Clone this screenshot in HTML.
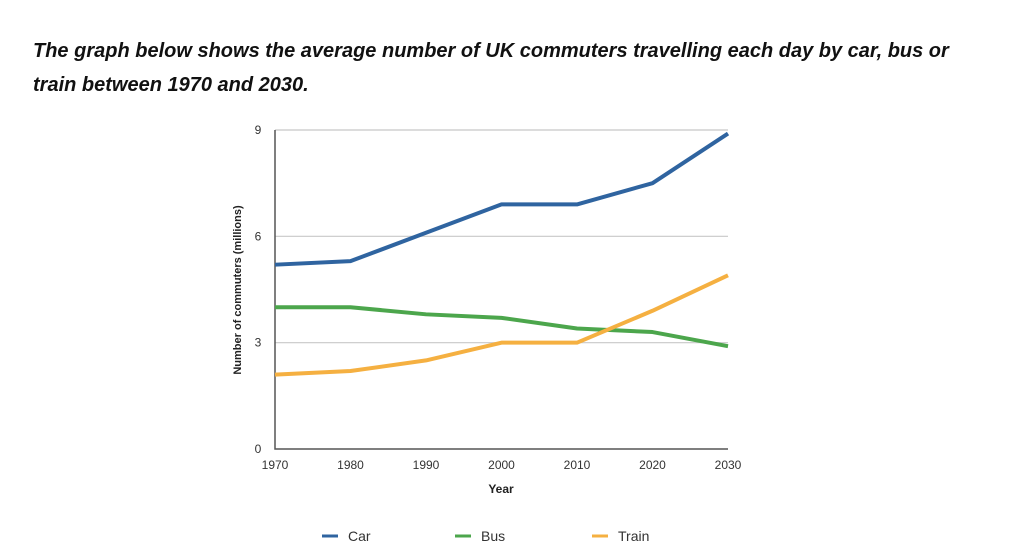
<!DOCTYPE html>
<html><head><meta charset="utf-8">
<style>
html,body{margin:0;padding:0;background:#fff;width:1010px;height:560px;overflow:hidden}
.title{position:absolute;left:33px;top:34px;font:italic bold 20px "Liberation Sans",sans-serif;line-height:34px;color:#111;width:935px}
svg{position:absolute;left:0;top:0}
</style></head><body>
<div class="title">The graph below shows the average number of UK commuters travelling each day by car, bus or train between 1970 and 2030.</div>
<svg id="chart" width="1010" height="560"></svg>
<script>
const years=[1970,1980,1990,2000,2010,2020,2030];
const car=[5.2,5.3,6.1,6.9,6.9,7.5,8.9];
const bus=[4.0,4.0,3.8,3.7,3.4,3.3,2.9];
const train=[2.1,2.2,2.5,3.0,3.0,3.9,4.9];
const yTicks=[0,3,6,9];
const seriesNames=["Car","Bus","Train"];
const svg=document.getElementById('chart');
const NS='http://www.w3.org/2000/svg';
const X0=275,X1=728,Y0=449,Y1=130;
const xs=v=>X0+(v-1970)/60*(X1-X0);
const ys=v=>Y0-v/9*(Y0-Y1);
function mk(t,a,txt){const e=document.createElementNS(NS,t);for(const k in a)e.setAttribute(k,a[k]);if(txt!==undefined)e.textContent=txt;svg.appendChild(e);return e;}
yTicks.forEach(t=>{
 if(t>0){const g=mk('line',{x1:X0,x2:X1,y1:ys(t),y2:ys(t),stroke:'#c8c8c8','stroke-width':1.2});
 
 }
 const l=mk('text',{x:X0-17,y:ys(t)+4,'text-anchor':'middle','font-family':'Liberation Sans, sans-serif','font-size':12,fill:'#333'},t);
 
 
});
years.forEach(y=>{
 const l=mk('text',{x:xs(y),y:469,'text-anchor':'middle','font-family':'Liberation Sans, sans-serif','font-size':12,fill:'#333'},y);
 
 
});
const ax=mk('path',{d:`M${X0} ${Y1}V${Y0}H${X1}`,stroke:'#555','stroke-width':1.5,fill:'none'});


const xt=mk('text',{x:501,y:493,'text-anchor':'middle','font-family':'Liberation Sans, sans-serif','font-size':12,'font-weight':'bold',fill:'#222'},'Year');


const yt=mk('text',{x:0,y:0,transform:'translate(241,290) rotate(-90)','text-anchor':'middle','font-family':'Liberation Sans, sans-serif','font-size':11,'font-weight':'bold',fill:'#222'},'Number of commuters (millions)');


const colors=['#2f64a0','#4ca64c','#f5b041'];
[car,bus,train].forEach((s,i)=>{
 const p=mk('polyline',{points:s.map((v,j)=>xs(years[j])+','+ys(v)).join(' '),fill:'none',stroke:colors[i],'stroke-width':4,'stroke-linejoin':'round'});
 
 
});
const lx=[322,455,592];
seriesNames.forEach((n,i)=>{
 const ln=mk('line',{x1:lx[i],x2:lx[i]+16,y1:536,y2:536,stroke:colors[i],'stroke-width':3});
 
 
 const t=mk('text',{x:lx[i]+26,y:541,'font-family':'Liberation Sans, sans-serif','font-size':14,fill:'#333'},n);
 
 
});
</script>
</body></html>
